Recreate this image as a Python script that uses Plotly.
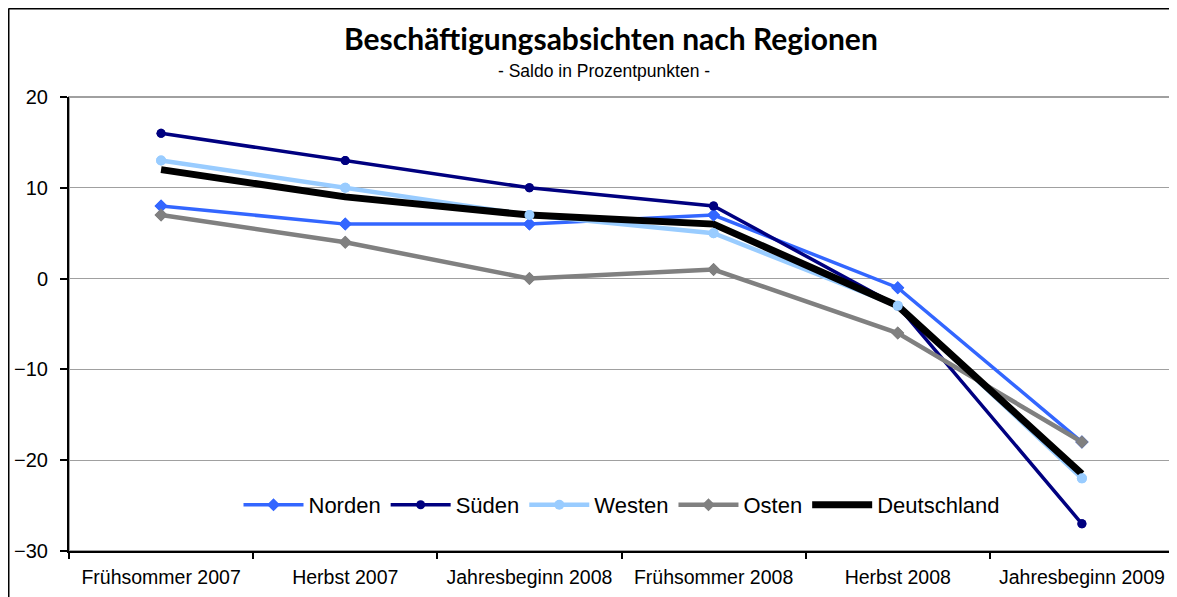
import plotly.graph_objects as go

categories = ["Frühsommer 2007", "Herbst 2007", "Jahresbeginn 2008",
              "Frühsommer 2008", "Herbst 2008", "Jahresbeginn 2009"]
norden = [8, 6, 6, 7, -1, -18]
sueden = [16, 13, 10, 8, -3, -27]
westen = [13, 10, 7, 5, -3, -22]
osten = [7, 4, 0, 1, -6, -18]
deutschland = [12, 9, 7, 6, -3, -21.5]

series = [
    ("Norden", norden, "#3366FF", 3.5, "diamond", 10),
    ("Süden", sueden, "#000080", 3.5, "circle", 9),
    ("Westen", westen, "#99CCFF", 4.5, "circle", 10),
    ("Osten", osten, "#808080", 4.5, "diamond", 10),
]

fig = go.Figure()
for name, vals, col, w, sym, ms in series:
    fig.add_trace(go.Scatter(x=categories, y=vals, name=name, mode="lines+markers",
                             line=dict(color=col, width=w),
                             marker=dict(symbol=sym, size=ms, color=col)))
fig.add_trace(go.Scatter(x=categories, y=deutschland, name="Deutschland", mode="lines",
                         line=dict(color="#000000", width=7)))
# markers drawn on top of all lines (as in the original)
for name, vals, col, w, sym, ms in series:
    fig.add_trace(go.Scatter(x=categories, y=vals, mode="markers", showlegend=False,
                             hoverinfo="skip",
                             marker=dict(symbol=sym, size=ms, color=col)))

# the page body has an 8px margin, so the figure starts at page (8, 8)
OFF = 8
W, H = 1177 - OFF, 597 - OFF
L, T = 69 - OFF, 97 - OFF
R, B = 3, 46
pw, ph = W - L - R, H - T - B

def px_x(p):  # page x -> paper x
    return (p - OFF - L) / pw

def px_y(p):  # page y -> paper y
    return (H - B - (p - OFF)) / ph

fig.update_layout(
    width=W, height=H,
    margin=dict(l=L, r=R, t=T, b=B, pad=0, autoexpand=False),
    paper_bgcolor="white", plot_bgcolor="white",
    font=dict(family="Liberation Sans, Arial, sans-serif", size=18, color="black"),
    showlegend=True,
    legend=dict(orientation="h", x=0.5, xanchor="center", y=px_y(505), yanchor="middle",
                font=dict(size=22), bgcolor="rgba(0,0,0,0)", itemwidth=60,
                tracegroupgap=0),
    annotations=[
        dict(text="<b>Beschäftigungsabsichten nach Regionen</b>", xref="paper", yref="paper",
             x=px_x(611), y=px_y(38), xanchor="center", yanchor="middle", showarrow=False,
             font=dict(family="Lato, sans-serif", size=30, color="black")),
        dict(text="- Saldo in Prozentpunkten -", xref="paper", yref="paper",
             x=px_x(604), y=px_y(71), xanchor="center", yanchor="middle", showarrow=False,
             font=dict(family="Liberation Sans, Arial, sans-serif", size=17.5, color="black")),
    ],
    shapes=[
        dict(type="rect", xref="paper", yref="paper", x0=0, x1=1, y0=0, y1=1,
             line=dict(color="#A0A0A0", width=2), layer="below"),
        dict(type="line", xref="paper", yref="paper", x0=px_x(8.5), x1=px_x(8.5),
             y0=px_y(8.5), y1=-0.2, line=dict(color="black", width=2)),
        dict(type="line", xref="paper", yref="paper", x0=px_x(8.5), x1=1.05,
             y0=px_y(8.5), y1=px_y(8.5), line=dict(color="black", width=2)),
    ],
)
fig.update_xaxes(type="category", tickson="boundaries", ticks="outside", ticklen=6,
                 tickcolor="black", tickwidth=1.5, showline=True, linecolor="black",
                 linewidth=2, showgrid=False, tickfont=dict(size=19.5),
                 ticklabelstandoff=8, range=[-0.5, 5.5], automargin=False)
fig.update_yaxes(range=[-30, 20], dtick=10, ticks="outside", ticklen=7, tickcolor="black",
                 tickwidth=1.5, showline=True, linecolor="black", linewidth=2,
                 showgrid=True, gridcolor="#A0A0A0", gridwidth=1, zeroline=False,
                 tickfont=dict(size=20), ticklabelstandoff=8, automargin=False)

fig.write_html("out.html")
